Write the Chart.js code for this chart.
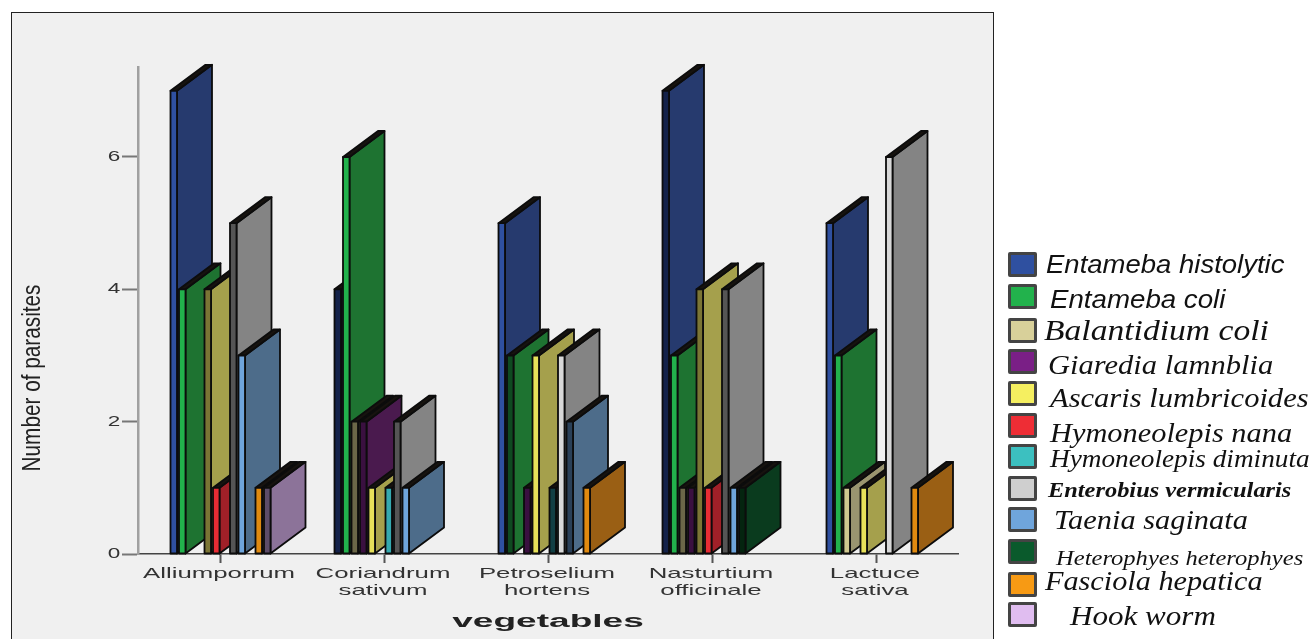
<!DOCTYPE html>
<html>
<head>
<meta charset="utf-8">
<title>Number of parasites by vegetable</title>
<script src="https://cdn.jsdelivr.net/npm/chart.js@4/dist/chart.umd.min.js"></script>
<style>
  html, body { margin: 0; background: #fff; }
  #wrap { position: relative; width: 1315px; height: 639px; overflow: hidden; }
  canvas { display: block; }
  .swatch { position: absolute; left: 1008px; width: 23px; height: 19px; border: 3px solid #444; border-radius: 2px; }
  .name { position: absolute; color: #111; white-space: nowrap; line-height: 1; transform-origin: left center; }
</style>
</head>
<body>
<div id="wrap"><canvas id="graph" width="1315" height="639"></canvas></div>
<script>
// Dados do gráfico
const categories = ['Alliumporrum', ['Coriandrum', 'sativum'], ['Petroselium', 'hortens'], ['Nasturtium', 'officinale'], ['Lactuce', 'sativa']];
const yTicks = [0, 2, 4, 6];

const histolytica = [7, 4, 5, 7, 5];
const entamebaColi = [4, 6, 3, 3, 3];
const balantidium = [null, 2, null, 1, 1];
const giardia = [null, 2, 1, 1, null];
const ascaris = [4, 1, 3, 4, 1];
const hymNana = [1, null, null, 1, null];
const hymDiminuta = [null, 1, 1, null, null];
const enterobius = [5, 2, 3, 4, 6];
const taenia = [3, 1, 2, 1, null];
const heterophyes = [null, null, null, 1, null];
const fasciola = [1, null, 1, null, 1];
const hookWorm = [1, null, null, null, null];

const speciesNames = ['Entameba histolytic', 'Entameba coli', 'Balantidium coli', 'Giaredia lamnblia', 'Ascaris lumbricoides',
  'Hymoneolepis nana', 'Hymoneolepis diminuta', 'Enterobius vermicularis', 'Taenia saginata', 'Heterophyes heterophyes',
  'Fasciola hepatica', 'Hook worm'];
const speciesValues = [histolytica, entamebaColi, balantidium, giardia, ascaris, hymNana, hymDiminuta, enterobius, taenia, heterophyes, fasciola, hookWorm];

// cores: frente clara, frente escura, lateral
const frontColors = ['#2f50a0', '#22b24c', '#cfc890', '#7a1f86', '#e6e05a', '#e82c34', '#35aab0', '#d8d8d8', '#6fa5dc', '#0a4a26', '#e08a10', '#e0bdf0'];
const dimColors = ['#14224a', '#0f4a20', '#6b6748', '#3a1040', '#7b7535', '#7a161c', '#123f44', '#555555', '#2a4058', '#04240f', '#7a4a0a', '#5d4c68'];
const sideColors = ['#263a6e', '#1e7331', '#9a9570', '#4a1a4e', '#a5a04c', '#a02028', '#2a7f85', '#848484', '#4d6c8a', '#0a3b1e', '#9a5f14', '#8c7399'];
const dimFronts = [[4, 7, 11], [0, 2, 3, 7], [1, 3, 6, 8], [0, 2, 3, 4, 7, 9], []];
const legendColors = ['#2f50a0', '#22b24c', '#d8d09a', '#7a1f86', '#f5ef60', '#ee2d35', '#3cc0c0', '#cfcfcf', '#6fa5dc', '#0a5a2c', '#f79a14', '#e0bdf0'];

const depthX = 35, depthY = 26, frontWidth = 6.5;

function poly(c, pts, fill) {
  c.beginPath();
  pts.forEach((p, i) => i ? c.lineTo(p[0], p[1]) : c.moveTo(p[0], p[1]));
  c.closePath();
  c.fillStyle = fill;
  c.fill();
  c.strokeStyle = '#0c0c0c';
  c.lineWidth = 1.8;
  c.lineJoin = 'round';
  c.stroke();
}

function stretchedText(c, text, x, y, font, sx, color, align) {
  c.save();
  c.translate(x, y);
  c.scale(sx, 1);
  c.font = font;
  c.fillStyle = color;
  c.textAlign = align || 'center';
  c.textBaseline = 'middle';
  c.fillText(text, 0, 0);
  c.restore();
}

// painel cinza atrás do gráfico
const panel = {
  id: 'panel',
  beforeDraw(chart) {
    const c = chart.ctx;
    c.save();
    c.fillStyle = '#f0f0f0';
    c.strokeStyle = '#222';
    c.lineWidth = 1;
    c.fillRect(11.5, 12.5, 982, 640);
    c.strokeRect(11.5, 12.5, 982, 640);
    c.restore();
  }
};

// barras em 3D, desenhadas a partir dos elementos de cada dataset
const bars3d = {
  id: 'bars3d',
  afterDatasetsDraw(chart) {
    const c = chart.ctx;
    c.save();
    chart.data.datasets.forEach((ds, i) => {
      chart.getDatasetMeta(i).data.forEach((bar, j) => {
        if (ds.data[j] === null) return;
        const left = bar.x - bar.width / 2 + 1.5;
        const right = left + frontWidth;
        const top = bar.y, base = bar.base;
        poly(c, [[right, top], [right + depthX, top - depthY], [right + depthX, base - depthY], [right, base]], sideColors[i]);
        poly(c, [[left, top], [left + depthX, top - depthY], [right + depthX, top - depthY], [right, top]], '#17130f');
        poly(c, [[left, top], [right, top], [right, base], [left, base]], dimFronts[j].includes(i) ? dimColors[i] : frontColors[i]);
      });
    });
    c.restore();
  }
};

// textos dos eixos
const axisText = {
  id: 'axisText',
  afterDraw(chart) {
    const c = chart.ctx;
    const xs = chart.scales.x, ys = chart.scales.y;
    yTicks.forEach(v => stretchedText(c, String(v), 114, ys.getPixelForValue(v), '15px "Liberation Sans"', 1.5, '#333'));
    categories.forEach((label, i) => {
      const lines = Array.isArray(label) ? label : [label];
      lines.forEach((t, k) => stretchedText(c, t, xs.getPixelForTick(i) - 1, 574 + k * 17, '15px "Liberation Sans"', 1.72, '#333'));
    });
    stretchedText(c, 'vegetables', 548, 622, 'bold 18px "Liberation Sans"', 2.06, '#222');
    c.save();
    c.translate(33, 378);
    c.rotate(-Math.PI / 2);
    stretchedText(c, 'Number of parasites', 0, 0, '25px "Liberation Sans"', 0.83, '#222');
    c.restore();
  }
};

const config = {
  type: 'bar',
  data: {
    labels: categories,
    datasets: speciesNames.map((name, i) => ({
      label: name,
      data: speciesValues[i],
      backgroundColor: 'rgba(0,0,0,0)',
      categoryPercentage: 102 / 164,
      barPercentage: 1
    }))
  },
  options: {
    responsive: false,
    animation: false,
    layout: { padding: { top: 67, right: 357, left: 0, bottom: 0 } },
    plugins: { legend: { display: false }, tooltip: { enabled: false } },
    scales: {
      x: {
        grid: { offset: false, drawOnChartArea: false, tickLength: 9, color: '#555', tickWidth: 2 },
        border: { color: '#444', width: 1.5 },
        ticks: { display: false },
        afterFit(s) { s.height = 85; }
      },
      y: {
        min: 0,
        max: 7.36,
        grid: { drawOnChartArea: false, tickLength: 16, color: '#777', tickWidth: 2 },
        border: { color: '#a0a0a0', width: 2.5 },
        ticks: { display: false, stepSize: 2, includeBounds: false },
        afterFit(s) { s.width = 138; }
      }
    }
  },
  plugins: [panel, bars3d, axisText]
};

const myChart = new Chart(document.getElementById('graph').getContext('2d'), config);

// legenda, com a fonte de cada nome
const legendCenters = [264, 296, 330, 361, 393, 425, 456, 488, 519, 551, 584, 614];
const legendFonts = [
  [1046, 'italic 25px "Liberation Sans"', 1.10],
  [1050, 'italic 25px "Liberation Sans"', 1.107],
  [1044, 'italic 30px "Liberation Serif"', 1.12],
  [1048, 'italic 27px "Liberation Serif"', 1.13],
  [1050, 'italic 28px "Liberation Serif"', 1.09],
  [1050, 'italic 27px "Liberation Serif"', 1.125],
  [1050, 'italic 25px "Liberation Serif"', 1.09],
  [1048, 'italic bold 20px "Liberation Serif"', 1.22],
  [1054, 'italic 28px "Liberation Serif"', 1.085],
  [1056, 'italic 21px "Liberation Serif"', 1.17],
  [1045, 'italic 28px "Liberation Serif"', 1.08],
  [1070, 'italic 28px "Liberation Serif"', 1.11]
];
const legendOffsets = [0, 3, 0, 4, 5, 8, 2, 2, 1, 7, -3, 2];
const wrap = document.getElementById('wrap');
speciesNames.forEach((name, i) => {
  const sw = document.createElement('div');
  sw.className = 'swatch';
  sw.style.top = (legendCenters[i] - 12) + 'px';
  sw.style.background = legendColors[i];
  wrap.appendChild(sw);
  const t = document.createElement('div');
  t.className = 'name';
  t.textContent = name;
  t.style.left = legendFonts[i][0] + 'px';
  t.style.font = legendFonts[i][1];
  t.style.lineHeight = '1';
  t.style.top = (legendCenters[i] + legendOffsets[i]) + 'px';
  t.style.transform = 'translateY(-50%) scaleX(' + legendFonts[i][2] + ')';
  wrap.appendChild(t);
});
</script>
</body>
</html>
